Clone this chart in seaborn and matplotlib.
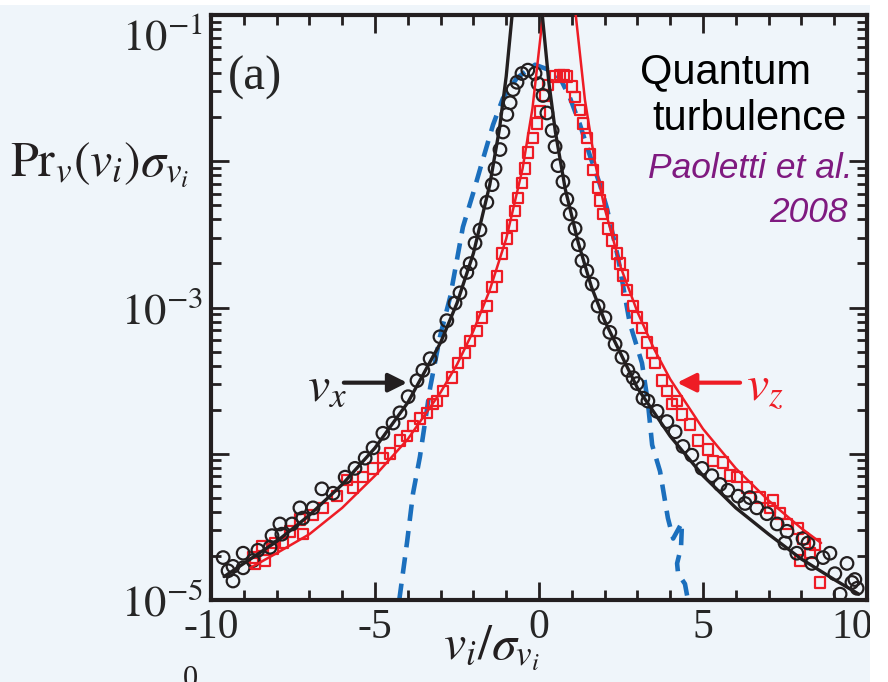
import numpy as np
import pandas as pd
import seaborn as sns
import matplotlib.pyplot as plt
from matplotlib.patches import Rectangle
from matplotlib.transforms import ScaledTranslation
from matplotlib.ticker import FixedLocator, NullFormatter, LogLocator

# v_x data (black circles): x and log10 of Pr*sigma
vx_x = [-9.63, -9.48, -9.33, -9.33, -9.02, -9.02, -8.72, -8.57, -8.20, -8.14, -7.90, -7.84,
        -7.53, -7.29, -7.20, -6.89, -6.62, -6.28, -5.91, -5.61, -5.30, -5.06, -4.76, -4.45,
        -4.24, -3.99, -3.72, -3.54, -3.32, -3.02, -2.81, -2.56, -2.41, -2.20, -2.10, -1.95,
        -1.80, -1.59, -1.43, -1.34, -1.19, -1.10, -0.98, -0.88, -0.79, -0.67, -0.52, -0.34,
        -0.12, -0.03, 0.12, 0.24, 0.40, 0.49, 0.58, 0.73, 0.85, 0.95, 1.10, 1.20, 1.31, 1.46,
        1.62, 1.80, 2.01, 2.16, 2.32, 2.53, 2.71, 2.87, 2.99, 3.17, 3.32, 3.60, 3.90, 4.15,
        4.39, 4.66, 4.97, 5.27, 5.52, 5.76, 6.07, 6.28, 6.43, 6.64, 6.95, 7.26, 7.50, 7.56,
        7.86, 8.05, 8.20, 8.32, 8.66, 8.87, 9.02, 9.18, 9.39, 9.54, 9.63, 9.70]
vx_logp = [-4.71, -4.80, -4.87, -4.77, -4.78, -4.68, -4.73, -4.66, -4.64, -4.56, -4.48, -4.55,
           -4.48, -4.37, -4.44, -4.37, -4.24, -4.27, -4.16, -4.10, -4.03, -3.96, -3.86, -3.79,
           -3.72, -3.61, -3.50, -3.43, -3.35, -3.20, -3.09, -2.97, -2.90, -2.76, -2.70, -2.56,
           -2.47, -2.28, -2.16, -2.05, -1.92, -1.80, -1.68, -1.60, -1.51, -1.46, -1.40, -1.377,
           -1.40, -1.47, -1.55, -1.67, -1.79, -1.90, -2.03, -2.14, -2.26, -2.36, -2.46, -2.57,
           -2.68, -2.75, -2.84, -2.99, -3.07, -3.17, -3.25, -3.34, -3.43, -3.48, -3.52, -3.62,
           -3.64, -3.71, -3.78, -3.85, -3.95, -4.01, -4.10, -4.15, -4.21, -4.25, -4.29, -4.34,
           -4.30, -4.37, -4.41, -4.48, -4.61, -4.53, -4.68, -4.58, -4.61, -4.75, -4.71, -4.68,
           -4.82, -4.96, -4.75, -4.88, -4.86, -4.92]

# v_z data (red squares)
vz_x = [-8.72, -8.66, -8.45, -8.35, -8.11, -8.05, -7.80, -7.59, -7.29, -7.20, -6.89, -6.59,
        -6.16, -5.85, -5.67, -5.37, -5.06, -4.76, -4.54, -4.24, -4.02, -3.84, -3.63, -3.41,
        -3.23, -3.11, -2.93, -2.65, -2.47, -2.26, -2.10, -1.89, -1.74, -1.59, -1.43, -1.28,
        -1.13, -0.98, -0.82, -0.73, -0.64, -0.52, -0.43, -0.34, -0.18, -0.06, 0.03, 0.18,
        0.27, 0.49, 0.64, 0.75, 0.85, 1.00, 1.10, 1.25, 1.34, 1.46, 1.55, 1.65, 1.80, 1.86,
        1.95, 2.10, 2.23, 2.38, 2.47, 2.56, 2.68, 2.87, 2.99, 3.14, 3.29, 3.45, 3.54, 3.75,
        3.90, 4.05, 4.21, 4.36, 4.60, 4.85, 5.15, 5.30, 5.61, 5.82, 6.04, 6.34, 6.74, 7.04,
        7.13, 7.35, 7.56, 7.90, 7.96, 8.05, 8.26, 8.41, 8.57]
vz_logp = [-4.71, -4.75, -4.63, -4.73, -4.65, -4.61, -4.61, -4.53, -4.45, -4.55, -4.42, -4.37,
           -4.29, -4.18, -4.23, -4.16, -4.10, -4.03, -4.00, -3.91, -3.88, -3.81, -3.76, -3.72,
           -3.66, -3.64, -3.57, -3.48, -3.38, -3.31, -3.23, -3.16, -3.07, -2.99, -2.86, -2.79,
           -2.63, -2.53, -2.44, -2.34, -2.25, -2.15, -2.05, -1.94, -1.84, -1.74, -1.66, -1.55,
           -1.48, -1.42, -1.41, -1.41, -1.42, -1.49, -1.56, -1.65, -1.74, -1.84, -1.95, -2.06,
           -2.18, -2.27, -2.36, -2.46, -2.54, -2.63, -2.70, -2.78, -2.88, -2.99, -3.07, -3.14,
           -3.24, -3.31, -3.38, -3.50, -3.57, -3.66, -3.64, -3.73, -3.80, -3.91, -3.97, -4.05,
           -4.06, -4.15, -4.16, -4.23, -4.30, -4.37, -4.32, -4.41, -4.48, -4.51, -4.73, -4.58,
           -4.68, -4.62, -4.88]

# fitted curves (solid lines)
fit_x_x = [-9.6, -8.0, -7.0, -6.0, -5.0, -4.0, -3.0, -2.5, -2.0, -1.5, -1.2, -1.0, -0.82,
           -0.785, 0.065, 0.10, 0.3, 0.5, 0.8, 1.2, 1.6, 2.0, 3.0, 4.0, 5.0, 6.0, 7.0, 8.0,
           9.0, 9.75]
fit_x_logp = [-4.84, -4.60, -4.42, -4.21, -3.96, -3.65, -3.24, -2.97, -2.63, -2.16, -1.77,
              -1.42, -1.00, -0.90, -0.90, -1.00, -1.46, -1.80, -2.19, -2.56, -2.86, -3.09,
              -3.55, -3.88, -4.15, -4.37, -4.55, -4.72, -4.86, -4.96]

fit_z_x = [-8.8, -8.0, -7.0, -6.0, -5.0, -4.0, -3.0, -2.5, -2.0, -1.5, -1.0, -0.5, -0.2,
           0.12, 0.157, 1.083, 1.12, 1.4, 1.7, 2.0, 2.5, 3.0, 3.5, 4.0, 5.0, 6.0, 7.0, 8.0, 8.6]
fit_z_logp = [-4.78, -4.68, -4.55, -4.37, -4.15, -3.90, -3.58, -3.39, -3.16, -2.88, -2.53,
              -2.05, -1.64, -1.00, -0.90, -0.90, -1.00, -1.58, -2.00, -2.32, -2.73, -3.03,
              -3.28, -3.49, -3.83, -4.10, -4.32, -4.51, -4.61]

# gaussian (blue dashed)
gauss_x = [-4.26, -4.02, -3.84, -3.63, -3.32, -3.02, -2.71, -2.32, -2.01, -1.74, -1.40, -1.10,
           -0.67, -0.12, 0.24, 0.64, 0.95, 1.25, 1.55, 1.86, 2.07, 2.41, 2.77, 3.14, 3.32, 3.45,
           3.69, 3.84, 3.93, 4.09, 4.36, 4.33, 4.21, 4.24, 4.45, 4.54]
gauss_logp = [-5.00, -4.60, -4.27, -4.02, -3.55, -3.20, -2.93, -2.45, -2.22, -2.01, -1.75, -1.57,
              -1.43, -1.34, -1.37, -1.43, -1.57, -1.75, -1.96, -2.16, -2.32, -2.66, -3.11, -3.38,
              -3.65, -3.94, -4.12, -4.32, -4.44, -4.58, -4.47, -4.64, -4.75, -4.82, -4.89, -5.00]

xtick_vals = [-10, -5, 0, 5, 10]
xtick_labels = ['-10', '-5', '0', '5', '10']
ytick_vals = [1e-5, 1e-4, 1e-3, 1e-2, 1e-1]
ytick_labels = [r'$10^{-5}$', '', r'$10^{-3}$', '', r'$10^{-1}$']

BG = '#eff5fa'
BLACK = '#231f20'
RED = '#ee1c25'
BLUE = '#1b6fbd'
PURPLE = '#7f1a80'

sns.set_style('ticks')
plt.rcParams['font.family'] = ['Liberation Serif', 'DejaVu Serif']
plt.rcParams['mathtext.fontset'] = 'stix'

fig = plt.figure(figsize=(8.88, 6.82), dpi=100, facecolor=BG)
ax = fig.add_axes([211 / 888, 1 - 600 / 682, 656 / 888, 585 / 682])
ax.set_facecolor(BG)

vx = pd.DataFrame({'x': vx_x, 'p': 10 ** np.array(vx_logp)})
vz = pd.DataFrame({'x': vz_x, 'p': 10 ** np.array(vz_logp)})
fx = pd.DataFrame({'x': fit_x_x, 'p': 10 ** np.array(fit_x_logp)})
fz = pd.DataFrame({'x': fit_z_x, 'p': 10 ** np.array(fit_z_logp)})
gs = pd.DataFrame({'x': gauss_x, 'p': 10 ** np.array(gauss_logp)})

sns.lineplot(data=gs, x='x', y='p', sort=False, estimator=None, color=BLUE, lw=3.3,
             dashes=False, linestyle=(0, (3.6, 2.2)), ax=ax, zorder=1)
sns.scatterplot(data=vz, x='x', y='p', marker='s', s=58, color=RED, facecolor='none',
                edgecolor=RED, linewidth=1.6, ax=ax, zorder=2)
sns.scatterplot(data=vx, x='x', y='p', marker='o', s=82, color=BLACK, facecolor='none',
                edgecolor=BLACK, linewidth=1.6, ax=ax, zorder=3)
sns.lineplot(data=fz, x='x', y='p', sort=False, estimator=None, color=RED, lw=1.8, ax=ax, zorder=4)
sns.lineplot(data=fx, x='x', y='p', sort=False, estimator=None, color=BLACK, lw=2.4, ax=ax, zorder=5)

ax.set_yscale('log')
ax.set_xlim(-10, 10)
ax.set_ylim(1e-5, 1e-1)
ax.set_xlabel('')
ax.set_ylabel('')

ax.xaxis.set_major_locator(FixedLocator(xtick_vals))
ax.set_xticklabels(xtick_labels, fontsize=30)
ax.xaxis.set_minor_locator(FixedLocator(np.arange(-10, 11, 1)))
ax.yaxis.set_major_locator(FixedLocator(ytick_vals))
ax.set_yticklabels(ytick_labels, fontsize=32)
ax.yaxis.set_minor_locator(LogLocator(base=10, subs=np.arange(2, 10)))
ax.yaxis.set_minor_formatter(NullFormatter())

ax.tick_params(which='both', direction='in', top=True, right=True, color=BLACK, width=2)
ax.tick_params(which='major', length=13, pad=6)
ax.tick_params(which='minor', length=7)
for sp in ax.spines.values():
    sp.set_linewidth(3)
    sp.set_color(BLACK)

# the top y label and the right x label sit a little inside the panel
top_lab = ax.yaxis.get_major_ticks()[-1].label1
top_lab.set_transform(top_lab.get_transform() + ScaledTranslation(0, -0.18, fig.dpi_scale_trans))
right_lab = ax.xaxis.get_major_ticks()[-1].label1
right_lab.set_transform(right_lab.get_transform() + ScaledTranslation(-0.15, 0, fig.dpi_scale_trans))

# labels
fig.text(100 / 888, 1 - 165 / 682, r'$\mathrm{Pr}_{v}(v_i)\sigma_{v_i}$', fontsize=36,
         ha='center', va='center', color=BLACK)
fig.text(491 / 888, 1 - 648 / 682, r'$v_i/\sigma_{v_i}$', fontsize=36,
         ha='center', va='center', color=BLACK)
fig.text(190 / 888, 1 - 665 / 682, '0', fontsize=22, ha='center', va='top', color=BLACK)

ax.text(0.026, 0.892, '(a)', transform=ax.transAxes, fontsize=35, ha='left', va='center')
ax.text(640 / 888, 1 - 83 / 682, 'Quantum', transform=fig.transFigure, family='Liberation Sans',
        fontsize=30, ha='left', va='baseline', color='black')
ax.text(652 / 888, 1 - 130 / 682, 'turbulence', transform=fig.transFigure, family='Liberation Sans',
        fontsize=30, ha='left', va='baseline', color='black')
ax.text(853 / 888, 1 - 178 / 682, 'Paoletti et al.', transform=fig.transFigure,
        family='Liberation Sans', style='italic', fontsize=25.5, ha='right', va='baseline',
        color=PURPLE)
ax.text(848 / 888, 1 - 222 / 682, '2008', transform=fig.transFigure,
        family='Liberation Sans', style='italic', fontsize=25.5, ha='right', va='baseline',
        color=PURPLE)

# arrows with component labels
ax.annotate('', xy=(-4.02, 10 ** -3.514), xytext=(-5.95, 10 ** -3.514),
            arrowprops=dict(arrowstyle='-|>', lw=3, color=BLACK, mutation_scale=28,
                            shrinkA=0, shrinkB=0))
ax.text(-5.85, 10 ** -3.55, r'$v_x$', fontsize=36, ha='right', va='center', color=BLACK)
ax.annotate('', xy=(4.21, 10 ** -3.514), xytext=(6.13, 10 ** -3.514),
            arrowprops=dict(arrowstyle='-|>', lw=3, color=RED, mutation_scale=28,
                            shrinkA=0, shrinkB=0))
ax.text(6.3, 10 ** -3.55, r'$v_z$', fontsize=36, ha='left', va='center', color=RED)

# white page margins at the top and right edge of the cropped panel
fig.add_artist(Rectangle((0, 1 - 5 / 682), 1, 5 / 682, transform=fig.transFigure,
                         facecolor='white', edgecolor='none', zorder=10))
fig.add_artist(Rectangle((870 / 888, 0), 18 / 888, 1, transform=fig.transFigure,
                         facecolor='white', edgecolor='none', zorder=10))

fig.savefig('out.png', dpi=100, facecolor=BG)
